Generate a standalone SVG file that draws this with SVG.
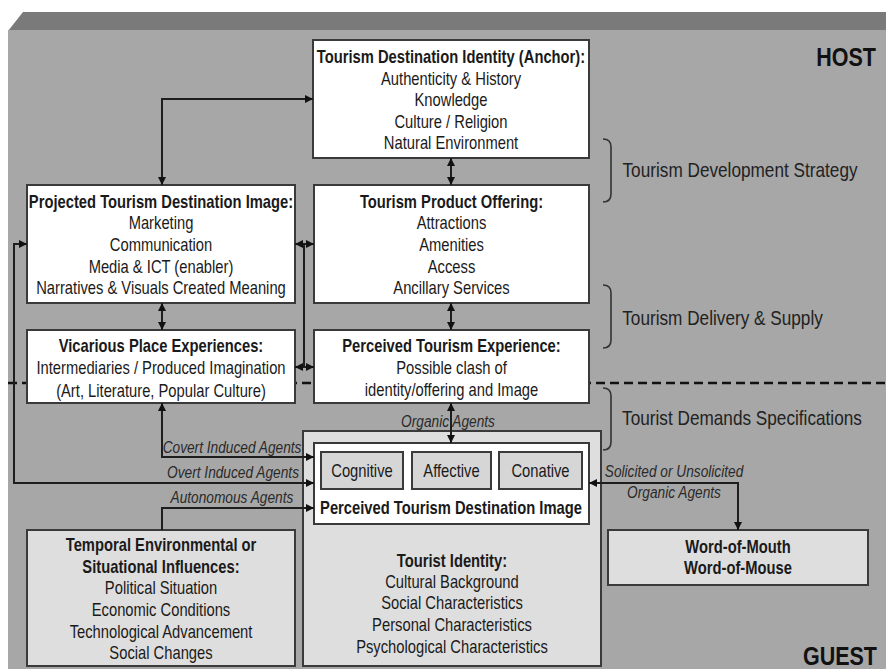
<svg xmlns="http://www.w3.org/2000/svg" width="886" height="669" viewBox="0 0 886 669">
<defs>
<style>
text{font-family:"Liberation Sans",Arial,sans-serif;fill:#1a1a1a;text-anchor:middle;transform-box:fill-box;transform-origin:center}
.t{font-size:18px;transform:scaleX(.82)}
.b{font-weight:bold}
.i{font-size:16.5px;font-style:italic;fill:#2a2a2a;transform:scaleX(.83)}
.s{font-size:20px;fill:#222;transform:scaleX(.86)}
.h{font-size:25px;font-weight:bold;fill:#111;transform:scaleX(.86)}
.w{fill:#fff;stroke:#3a3a3a;stroke-width:2}
.g{fill:#dedede;stroke:#3a3a3a;stroke-width:2}
.k{fill:#d6d6d6;stroke:#3a3a3a;stroke-width:2}
.c{fill:none;stroke:#1e1e1e;stroke-width:2}
.br{fill:none;stroke:#333;stroke-width:1.6}
</style>
<marker id="a" viewBox="0 0 8 8" refX="8" refY="4" markerWidth="8" markerHeight="8" markerUnits="userSpaceOnUse" orient="auto-start-reverse">
<path d="M0,0 L8,4 L0,8 z" fill="#111"/>
</marker>
</defs>

<g id="background">
<rect x="0" y="0" width="886" height="669" fill="#ffffff"/>
<polygon points="23,12 886,12 886,31 8,31" fill="#7a7a7a"/>
<rect x="8" y="30" width="878" height="639" fill="#a7a7a7"/>
<line x1="8" y1="383" x2="886" y2="383" stroke="#111" stroke-width="2.5" stroke-dasharray="9 5"/>
</g>

<g id="labels-right">
<path class="br" d="M603,139 q8,0 8,8 V194 q0,8 -8,8"/>
<text class="s" x="740" y="177">Tourism Development Strategy</text>
<path class="br" d="M603,285 q8,0 8,8 V340 q0,8 -8,8"/>
<text class="s" x="722.5" y="325">Tourism Delivery &amp; Supply</text>
<path class="br" d="M603,388 q8,0 8,8 V442 q0,8 -8,8"/>
<text class="s" x="742" y="425">Tourist Demands Specifications</text>
<text class="h" x="846" y="66">HOST</text>
<text class="h" x="840" y="665">GUEST</text>
</g>

<g id="anchor">
<rect class="w" x="313" y="40" width="276" height="118"/>
<text class="t b" x="451" y="63">Tourism Destination Identity (Anchor):</text>
<text class="t" x="451" y="85">Authenticity &amp; History</text>
<text class="t" x="451" y="106">Knowledge</text>
<text class="t" x="451" y="128">Culture / Religion</text>
<text class="t" x="451" y="149">Natural Environment</text>
</g>

<g id="projected">
<rect class="w" x="27" y="185" width="268" height="118"/>
<text class="t b" x="161" y="208">Projected Tourism Destination Image:</text>
<text class="t" x="161" y="229">Marketing</text>
<text class="t" x="161" y="251">Communication</text>
<text class="t" x="161" y="273">Media &amp; ICT (enabler)</text>
<text class="t" x="161" y="294">Narratives &amp; Visuals Created Meaning</text>
</g>

<g id="product">
<rect class="w" x="314" y="185" width="275" height="118"/>
<text class="t b" x="451.5" y="208">Tourism Product Offering:</text>
<text class="t" x="451.5" y="229">Attractions</text>
<text class="t" x="451.5" y="251">Amenities</text>
<text class="t" x="451.5" y="273">Access</text>
<text class="t" x="451.5" y="294">Ancillary Services</text>
</g>

<g id="vicarious">
<rect class="w" x="27" y="330" width="268" height="73"/>
<text class="t b" x="161" y="352">Vicarious Place Experiences:</text>
<text class="t" x="161" y="374">Intermediaries / Produced Imagination</text>
<text class="t" x="161" y="397">(Art, Literature, Popular Culture)</text>
</g>

<g id="perceived-experience">
<rect class="w" x="314" y="330" width="275" height="73"/>
<text class="t b" x="451.5" y="352">Perceived Tourism Experience:</text>
<text class="t" x="451.5" y="374">Possible clash of</text>
<text class="t" x="451.5" y="396">identity/offering and Image</text>
</g>

<g id="tourist-identity">
<rect class="g" x="303" y="431" width="298" height="235"/>
<text class="t b" x="452" y="567">Tourist Identity:</text>
<text class="t" x="452" y="588">Cultural Background</text>
<text class="t" x="452" y="609">Social Characteristics</text>
<text class="t" x="452" y="631">Personal Characteristics</text>
<text class="t" x="452" y="653">Psychological Characteristics</text>
</g>

<g id="perceived-image">
<rect class="w" x="314" y="443" width="275" height="81"/>
<text class="t b" x="451" y="514">Perceived Tourism Destination Image</text>
</g>
<g id="cognitive">
<rect class="k" x="321" y="452" width="82" height="37"/>
<text class="t" x="362" y="477">Cognitive</text>
</g>
<g id="affective">
<rect class="k" x="412" y="452" width="79" height="37"/>
<text class="t" x="451.5" y="477">Affective</text>
</g>
<g id="conative">
<rect class="k" x="499" y="452" width="83" height="37"/>
<text class="t" x="540.5" y="477">Conative</text>
</g>

<g id="temporal">
<rect class="g" x="27" y="530" width="268" height="136"/>
<text class="t b" x="161" y="551">Temporal Environmental or</text>
<text class="t b" x="161" y="573">Situational Influences:</text>
<text class="t" x="161" y="594">Political Situation</text>
<text class="t" x="161" y="616">Economic Conditions</text>
<text class="t" x="161" y="638">Technological Advancement</text>
<text class="t" x="161" y="659">Social Changes</text>
</g>

<g id="word-of-mouth">
<rect class="g" x="608" y="530" width="260" height="55"/>
<text class="t b" x="738" y="553">Word-of-Mouth</text>
<text class="t b" x="738" y="574">Word-of-Mouse</text>
</g>

<g id="connectors">
<path class="c" d="M162,185 V99 H313" marker-start="url(#a)" marker-end="url(#a)"/>
<path class="c" d="M451,158 V185" marker-start="url(#a)" marker-end="url(#a)"/>
<path class="c" d="M162,303 V330" marker-start="url(#a)" marker-end="url(#a)"/>
<path class="c" d="M451,303 V330" marker-start="url(#a)" marker-end="url(#a)"/>
<path class="c" d="M295,244 H314" marker-start="url(#a)" marker-end="url(#a)"/>
<path class="c" d="M295,367 H314" marker-start="url(#a)" marker-end="url(#a)"/>
<path class="c" d="M304,244 V367"/>
<path class="c" d="M27,244 H14 V483 H314" marker-start="url(#a)" marker-end="url(#a)"/>
<path class="c" d="M162,403 V457 H314" marker-start="url(#a)" marker-end="url(#a)"/>
<path class="c" d="M162,530 V508 H314" marker-end="url(#a)"/>
<path class="c" d="M589,483 H738 V530" marker-start="url(#a)" marker-end="url(#a)"/>
<path class="c" d="M451,403 V443" marker-start="url(#a)" marker-end="url(#a)"/>
</g>

<g id="connector-labels">
<text class="i" x="232" y="453">Covert Induced Agents</text>
<text class="i" x="233" y="478">Overt Induced Agents</text>
<text class="i" x="232" y="503">Autonomous Agents</text>
<text class="i" x="448" y="427">Organic Agents</text>
<text class="i" x="674" y="477">Solicited or Unsolicited</text>
<text class="i" x="674" y="498">Organic Agents</text>
</g>
</svg>
